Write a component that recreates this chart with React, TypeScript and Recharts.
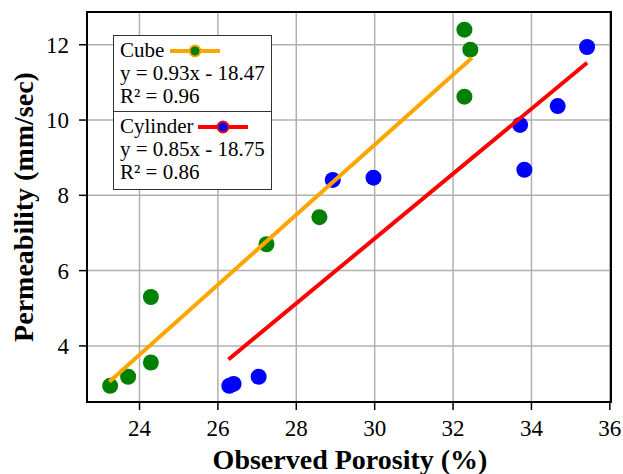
import React from "react";
import {
  ScatterChart,
  Scatter,
  XAxis,
  YAxis,
  CartesianGrid,
  ReferenceArea,
  Label,
} from "recharts";

// observed porosity (%) vs permeability (mm/sec)
const cubeX = [23.25, 23.71, 24.29, 24.29, 27.24, 28.59, 32.29, 32.44, 32.29];
const cubeY = [2.94, 3.18, 3.56, 5.3, 6.7, 7.42, 12.4, 11.87, 10.62];
const cylX = [26.29, 26.4, 27.04, 28.93, 29.97, 33.71, 33.82, 34.67, 35.42];
const cylY = [2.94, 2.99, 3.18, 8.41, 8.47, 9.87, 8.68, 10.37, 11.94];

// fitted line end points
const cubeFitX = [23.23, 32.48];
const cubeFitY = [3.05, 11.65];
const cylFitX = [26.27, 35.42];
const cylFitY = [3.64, 11.52];

const xTicks = [24, 26, 28, 30, 32, 34, 36];
const yTicks = [4, 6, 8, 10, 12];
const xDomain = [22.66, 36.03];
const yDomain = [2.51, 12.87];

const legendRows = [
  { name: "Cube", eq: "y = 0.93x - 18.47", r2: "R² = 0.96", line: "#FFA500", dot: "#008000" },
  { name: "Cylinder", eq: "y = 0.85x - 18.75", r2: "R² = 0.86", line: "#FF0000", dot: "#0000FF" },
];

const zip = (xs: number[], ys: number[]) => xs.map((x, i) => ({ x, y: ys[i] }));

const serif = "Liberation Serif";

const dot = (color: string) => (p: any) =>
  <circle cx={p.cx} cy={p.cy} r={8} fill={color} />;

const noDot = () => <g />;

const XTick = (p: any) => (
  <text x={p.x} y={p.y + 17} textAnchor="middle" fontFamily={serif} fontSize={23} fill="#000">
    {p.payload.value}
  </text>
);

const YTick = (p: any) => (
  <text x={p.x} y={p.y + 8} textAnchor="end" fontFamily={serif} fontSize={23} fill="#000">
    {p.payload.value}
  </text>
);

export default function App() {
  return (
    <div
      style={{
        position: "absolute",
        left: 0,
        top: 0,
        width: 623,
        height: 474,
        background: "#fff",
        fontFamily: serif,
      }}
    >
      <ScatterChart width={623} height={474} margin={{ top: 12, right: 12, bottom: 0, left: 0 }}>
        <CartesianGrid stroke="#b0b0b0" strokeWidth={1.5} />
        <XAxis
          type="number"
          dataKey="x"
          domain={xDomain}
          ticks={xTicks}
          allowDataOverflow
          height={72}
          tickSize={8}
          tickMargin={9}
          axisLine={{ stroke: "#000", strokeWidth: 2 }}
          tickLine={{ stroke: "#000", strokeWidth: 1.5 }}
          tick={<XTick />}
        >
          <Label
            content={(props: any) => {
              const vb = props.viewBox || { x: 87, y: 402, width: 524, height: 72 };
              return (
                <text
                  x={vb.x + vb.width / 2 + 1}
                  y={vb.y + 67}
                  textAnchor="middle"
                  fontFamily={serif}
                  fontWeight="bold"
                  fontSize={28}
                  fill="#000"
                >
                  Observed Porosity (%)
                </text>
              );
            }}
          />
        </XAxis>
        <YAxis
          type="number"
          dataKey="y"
          domain={yDomain}
          ticks={yTicks}
          allowDataOverflow
          width={87}
          tickSize={8}
          tickMargin={10}
          axisLine={{ stroke: "#000", strokeWidth: 2 }}
          tickLine={{ stroke: "#000", strokeWidth: 1.5 }}
          tick={<YTick />}
        >
          <Label
            content={(props: any) => {
              const vb = props.viewBox || { x: 0, y: 12, width: 87, height: 390 };
              const cx = 23;
              const cy = vb.y + vb.height / 2;
              return (
                <text
                  x={cx}
                  y={cy}
                  transform={`rotate(-90 ${cx} ${cy})`}
                  textAnchor="middle"
                  dominantBaseline="central"
                  fontFamily={serif}
                  fontWeight="bold"
                  fontSize={28}
                  fill="#000"
                >
                  Permeability (mm/sec)
                </text>
              );
            }}
          />
        </YAxis>
        <Scatter data={zip(cubeX, cubeY)} shape={dot("#008000")} isAnimationActive={false} />
        <Scatter data={zip(cylX, cylY)} shape={dot("#0000FF")} isAnimationActive={false} />
        <Scatter
          data={zip(cubeFitX, cubeFitY)}
          line={{ stroke: "#FFA500", strokeWidth: 4 }}
          shape={noDot}
          isAnimationActive={false}
        />
        <Scatter
          data={zip(cylFitX, cylFitY)}
          line={{ stroke: "#FF0000", strokeWidth: 4 }}
          shape={noDot}
          isAnimationActive={false}
        />
        <ReferenceArea
          x1={xDomain[0]}
          x2={xDomain[1]}
          y1={yDomain[0]}
          y2={yDomain[1]}
          fill="none"
          fillOpacity={0}
          stroke="#000"
          strokeWidth={2}
          ifOverflow="visible"
        />
      </ScatterChart>
      <div
        style={{
          position: "absolute",
          left: 113,
          top: 35,
          width: 157,
          background: "#fff",
          border: "1.5px solid #333",
          fontFamily: serif,
          fontSize: 21,
          lineHeight: "23px",
          color: "#000",
        }}
      >
        {legendRows.map((r, i) => (
          <div
            key={r.name}
            style={{
              padding: i === 0 ? "3px 0 3px 6px" : "3px 0 5px 6px",
              borderTop: i === 0 ? "none" : "1.5px solid #333",
            }}
          >
            <div style={{ display: "flex", alignItems: "center", whiteSpace: "nowrap" }}>
              <span>{r.name}</span>
              <svg width={50} height={16} style={{ marginLeft: i === 0 ? 6 : 4 }}>
                <line x1={0} y1={8} x2={50} y2={8} stroke={r.line} strokeWidth={4} />
                <circle cx={25} cy={8} r={5.5} fill={r.dot} stroke={r.line} strokeWidth={2} />
              </svg>
            </div>
            <div style={{ whiteSpace: "nowrap" }}>{r.eq}</div>
            <div style={{ whiteSpace: "nowrap" }}>{r.r2}</div>
          </div>
        ))}
      </div>
    </div>
  );
}
